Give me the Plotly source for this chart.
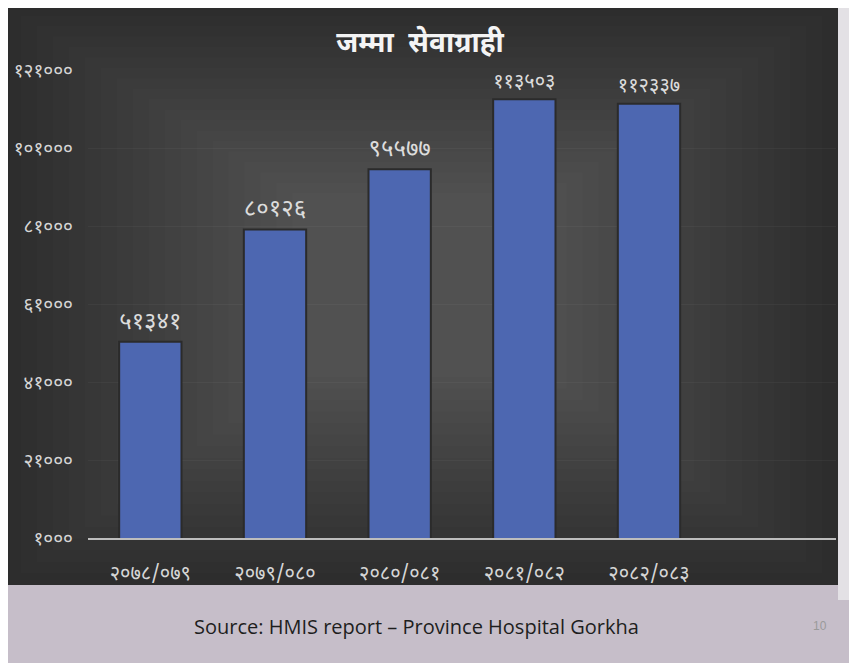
import plotly.graph_objects as go

# data
years = ["२०७८/०७९", "२०७९/०८०", "२०८०/०८१", "२०८१/०८२", "२०८२/०८३"]
clients = [51341, 80126, 95577, 113503, 112337]
tickVals = [1000, 21000, 41000, 61000, 81000, 101000, 121000]

nepDigits = str.maketrans("0123456789", "०१२३४५६७८९")

def toNep(n):
    return str(n).translate(nepDigits)

tickText = [toNep(v) for v in tickVals]
barText = [toNep(v) for v in clients]

devFont = "Noto Sans Devanagari, Noto Sans, Lohit Devanagari, sans-serif"

# page is drawn with an 8px body margin, so the figure is shifted
OFF = 8
W, H = 857 - OFF, 663 - OFF
L, R, T, B = 88 - OFF, 21, 70 - OFF, 125
pw, ph = W - L - R, H - T - B

def px(x):
    return (x - OFF - L) / pw

def py(y):
    return (H - B - (y - OFF)) / ph

fig = go.Figure()
fig.add_trace(go.Bar(x=years, y=clients, text=barText, textposition="outside",
                     textfont=dict(family=devFont, size=26, color="#dcdcdc"),
                     marker=dict(color="#4d67b1", line=dict(color="#2b2b2b", width=2)),
                     width=0.5, cliponaxis=False))

# slide panel behind the chart, lighter in the middle
shapes = [
    dict(type="rect", xref="paper", yref="paper", x0=px(838), x1=px(857), y0=py(600), y1=py(0),
         fillcolor="#e3e1e5", line=dict(width=0), layer="below"),
    dict(type="rect", xref="paper", yref="paper", x0=px(0), x1=px(838), y0=py(585), y1=py(0),
         fillcolor="#2d2d2d", line=dict(width=0), layer="below"),
]
for i in range(18):
    inset = 11 * (i + 1)
    shapes.append(dict(type="rect", xref="paper", yref="paper",
                       x0=px(5 + inset * 1.45), x1=px(838 - inset * 1.45),
                       y0=py(585 - inset * 1.05), y1=py(5 + inset * 0.95),
                       fillcolor="rgba(255,255,255,0.01)", line=dict(width=0), layer="below"))

fig.update_layout(
    width=W, height=H,
    margin=dict(l=L, r=R, t=T, b=B),
    paper_bgcolor="#c6bec9",
    plot_bgcolor="rgba(0,0,0,0)",
    shapes=shapes,
    showlegend=False,
    title=dict(text="<b>जम्मा  सेवाग्राही</b>", xref="container", x=(420 - OFF) / W, xanchor="center",
               yref="container", y=1 - (42 - OFF) / H, yanchor="middle",
               font=dict(family=devFont, size=28, color="#f4f4f4")),
    xaxis=dict(range=[-0.5, 5.5], showline=True, linecolor="#bdbdbd", linewidth=1.5,
               showgrid=False, ticks="", ticklabelstandoff=16, automargin=False,
               tickfont=dict(family=devFont, size=20, color="#d6d6d6")),
    yaxis=dict(range=[1000, 121000], tickvals=tickVals, ticktext=tickText,
               showgrid=True, gridcolor="rgba(255,255,255,0.04)", zeroline=False,
               ticks="", ticklabelstandoff=14, automargin=False,
               tickfont=dict(family=devFont, size=19, color="#d6d6d6")),
    annotations=[
        dict(text="Source: HMIS report – Province Hospital Gorkha", xref="paper", yref="paper",
             x=px(416), y=py(626), xanchor="center", yanchor="middle", showarrow=False,
             font=dict(family="Open Sans, Liberation Sans, sans-serif", size=20, color="#1e1e1e")),
        dict(text="10", xref="paper", yref="paper", x=px(820), y=py(626),
             xanchor="center", yanchor="middle", showarrow=False,
             font=dict(family="Liberation Sans, sans-serif", size=12, color="#9a9a9a")),
    ],
)

fig.write_html("out.html")
